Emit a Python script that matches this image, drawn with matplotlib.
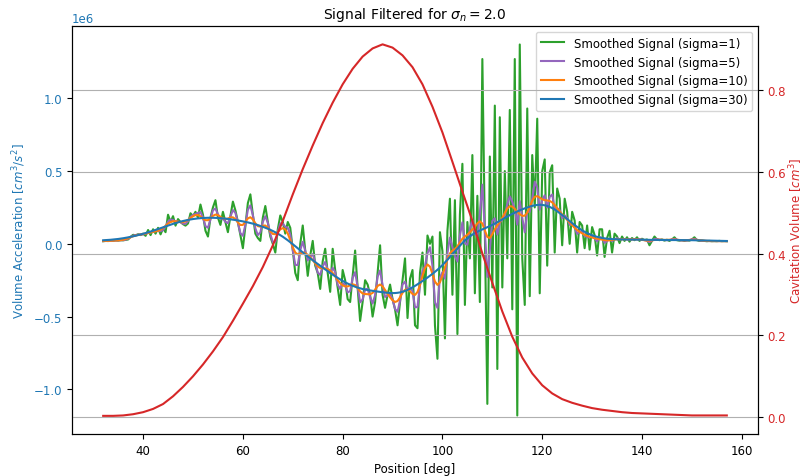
import numpy as np
import matplotlib
matplotlib.use("Agg")
import matplotlib.pyplot as plt

# Crank position of each acceleration sample [deg]
position_start, position_step = 32.0, 0.5

# Lightly smoothed volume acceleration (sigma=1) in units of 1e3 cm^3/s^2
accel_sigma1_k = [
    18, 20, 19, 22, 21, 24, 22, 25, 24, 27,            # 32.0 - 36.5
    30, 48, 62, 58, 66, 60, 70, 55, 95, 60,            # 37.0 - 41.5
    100, 70, 110, 65, 105, 80, 200, 150, 190, 125,     # 42.0 - 46.5
    170, 150, 135, 125, 140, 210, 190, 220, 180, 270,  # 47.0 - 51.5
    200, 90, 50, 180, 250, 300, 180, 130, 220, 150,    # 52.0 - 56.5
    80, 190, 290, 230, 150, 60, -30, 120, 280, 340,    # 57.0 - 61.5
    200, 70, 40, 20, 180, 260, 150, 50, 0, -60,        # 62.0 - 66.5
    100, 195, 150, 70, 150, 110, -40, -200, -250, 0,   # 67.0 - 71.5
    126, -50, -220, -80, 20, -150, -200, -310, -120, -34,      # 72.0 - 76.5
    -200, -330, -34, -180, -300, -420, -180, -250, -380, -400,  # 77.0 - 81.5
    -220, -46, -300, -530, -400, -250, -280, -350, -500, -400,  # 82.0 - 86.5
    -200, -10, -350, -440, -350, -280, -380, -450, -560, -400,  # 87.0 - 91.5
    -250, -100, -510, -240, -180, -560, -580, -200, -60, -350,  # 92.0 - 96.5
    57, 0, 50, -560, -790, 80, -50, -650, 90, 310,              # 97.0 - 101.5
    -350, 300, -620, 200, 550, -420, 150, -100, 610, -340,      # 102.0 - 106.5
    330, -400, 1270, 100, -1100, 600, -300, 950, -860, 870,     # 107.0 - 111.5
    -300, 500, -100, 920, -450, 1270, -1180, 1370, -100, -420,  # 112.0 - 116.5
    930, -360, 610, 250, 860, -340, 500, 580, -150, 490,        # 117.0 - 121.5
    540, -60, 380, 310, -10, 310, 220, 0, 220, 160,             # 122.0 - 126.5
    -60, 150, 126, -30, 126, -40, 115, 60, -80, 100,            # 127.0 - 131.5
    100, -90, 40, 90, -60, 70, 50, 5, 50, 20,                   # 132.0 - 136.5
    45, 15, 40, 25, 45, 20, 35, 25, 30, -10,                    # 137.0 - 141.5
    20, 50, 30, 25, 30, 22, 28, 20, 30, 45,                     # 142.0 - 146.5
    25, 22, 25, 20, 24, 22, 30, 45, 25, 20,                     # 147.0 - 151.5
    22, 20, 18, 20, 18, 19, 18, 20, 18, 19,                     # 152.0 - 156.5
    18,                                                          # 157.0
]

# Cavitation volume [cm^3] against crank position [deg]
volume_position = [32, 34, 36, 38, 40, 42, 44, 46, 48, 50, 52, 54, 56, 58, 60,
                   62, 64, 66, 68, 70, 72, 74, 76, 78, 80, 82, 84, 86, 88, 90,
                   92, 94, 96, 98, 100, 102, 104, 106, 108, 110, 112, 114, 116,
                   118, 120, 122, 124, 126, 128, 130, 132, 134, 136, 138, 140,
                   142, 144, 146, 148, 150, 152, 154, 156, 157]
cavitation_volume = [0.002, 0.002, 0.003, 0.006, 0.011, 0.019, 0.031, 0.050,
                     0.073, 0.099, 0.128, 0.160, 0.195, 0.235, 0.277, 0.320,
                     0.367, 0.420, 0.480, 0.545, 0.607, 0.665, 0.720, 0.770,
                     0.815, 0.853, 0.883, 0.903, 0.913, 0.905, 0.886, 0.857,
                     0.815, 0.760, 0.697, 0.625, 0.552, 0.480, 0.400, 0.328,
                     0.258, 0.196, 0.145, 0.106, 0.077, 0.057, 0.043, 0.034,
                     0.027, 0.021, 0.017, 0.014, 0.011, 0.009, 0.008, 0.007,
                     0.006, 0.005, 0.004, 0.003, 0.003, 0.003, 0.003, 0.003]

smoothing_sigmas = [1, 5, 10, 30]
sigma_noise = 2.0
deg_per_sample = 0.1

position = position_start + position_step * np.arange(len(accel_sigma1_k))
accel_sigma1 = np.array(accel_sigma1_k, dtype=float) * 1e3


def gaussian_smooth(x, y, sigma_deg):
    """Normalised Gaussian kernel smoothing over position."""
    d = x[:, None] - x[None, :]
    w = np.exp(-0.5 * (d / sigma_deg) ** 2)
    return (w @ y) / w.sum(axis=1)


colors = {1: "tab:green", 5: "tab:purple", 10: "tab:orange", 30: "tab:blue"}

fig = plt.figure(figsize=(8.05, 4.77), dpi=100)
ax1 = fig.add_subplot(111)
fig.subplots_adjust(left=72 / 805, right=758 / 805,
                    bottom=1 - 435 / 477, top=1 - 27 / 477)

for s in smoothing_sigmas:
    if s == 1:
        y = accel_sigma1
    else:
        extra = np.sqrt(s ** 2 - 1) * deg_per_sample
        y = gaussian_smooth(position, accel_sigma1, extra)
    ax1.plot(position, y, color=colors[s], lw=1.5,
             label=f"Smoothed Signal (sigma={s})")

fs = 8.5
ax1.set_xlabel("Position [deg]", fontsize=fs)
ax1.set_ylabel(r"Volume Acceleration [$cm^3/s^2$]", color="tab:blue", fontsize=fs)
ax1.tick_params(axis="y", labelcolor="tab:blue", labelsize=fs)
ax1.tick_params(axis="x", labelsize=fs)
ax1.yaxis.get_offset_text().set_color("tab:blue")
ax1.yaxis.get_offset_text().set_fontsize(fs)
ax1.set_ylim(-1.307e6, 1.497e6)
ax1.legend(loc="upper right", fontsize=fs)

ax2 = ax1.twinx()
ax2.plot(volume_position, cavitation_volume, color="tab:red", lw=1.5)
ax2.set_ylabel(r"Cavitation Volume [$cm^3$]", color="tab:red", fontsize=fs,
               labelpad=1)
ax2.tick_params(axis="y", labelcolor="tab:red", labelsize=fs)
ax2.set_ylim(-0.0425, 0.958)
ax2.yaxis.grid(True)

ax1.set_title(rf"Signal Filtered for $\sigma_n = {sigma_noise}$", fontsize=10)

fig.savefig("out.png", dpi=100)
